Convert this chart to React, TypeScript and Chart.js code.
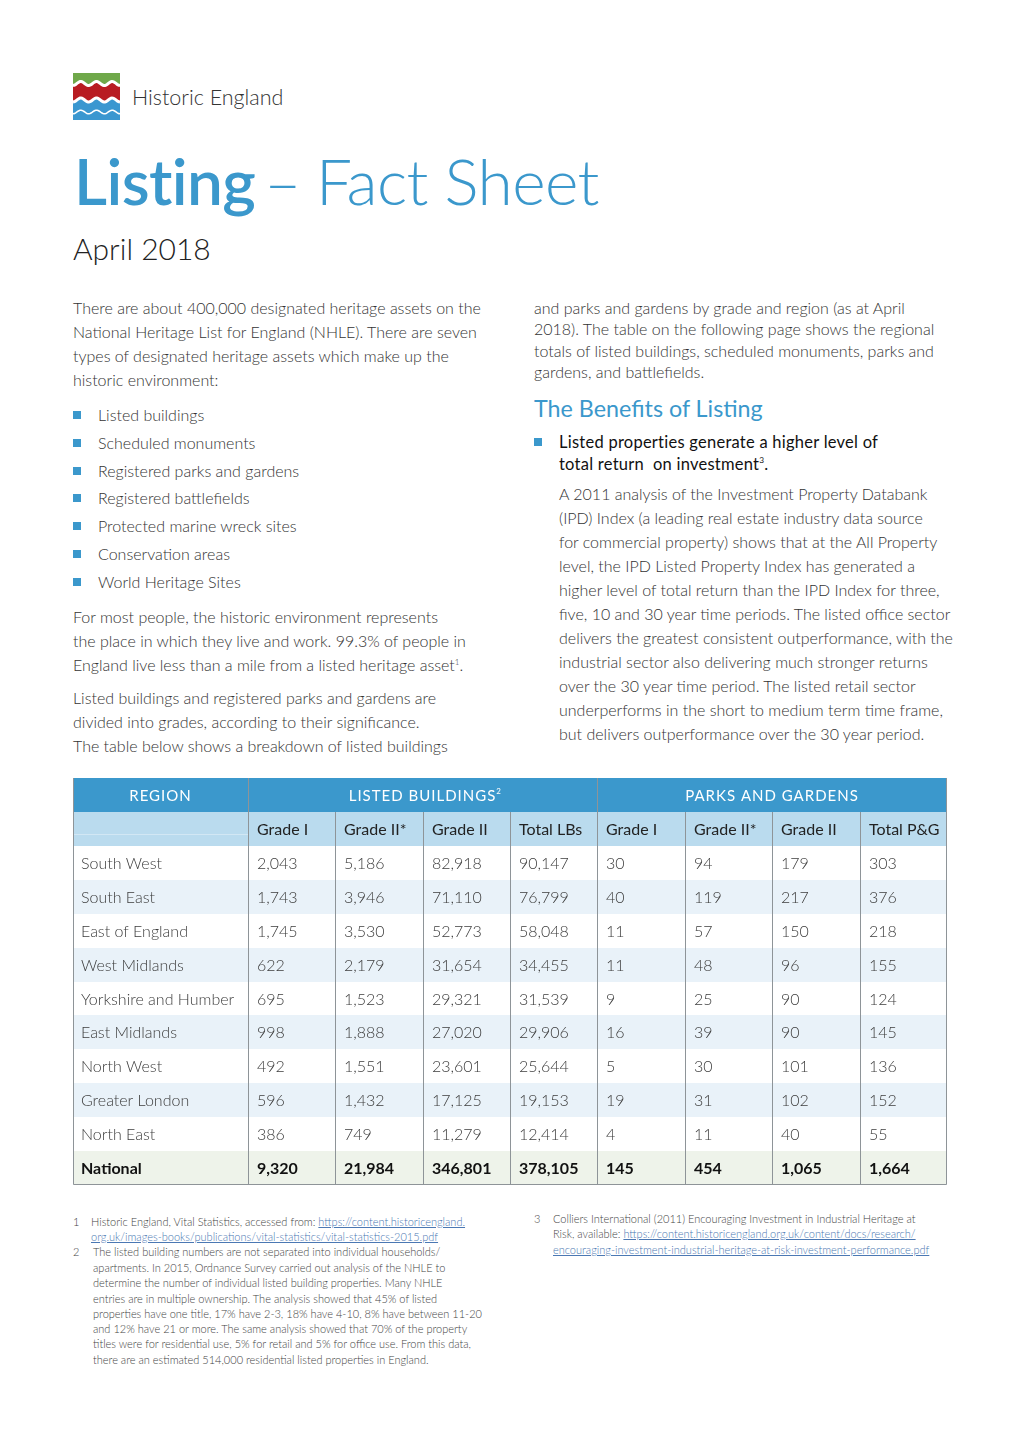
import React, { useEffect, useRef } from "react";
import { Chart, registerables } from "chart.js";

Chart.register(...registerables);

// ---------- Table data ----------
const regions = [
  "South West",
  "South East",
  "East of England",
  "West Midlands",
  "Yorkshire and Humber",
  "East Midlands",
  "North West",
  "Greater London",
  "North East",
  "National",
];
const lbGradeI = [2043, 1743, 1745, 622, 695, 998, 492, 596, 386, 9320];
const lbGradeIIStar = [5186, 3946, 3530, 2179, 1523, 1888, 1551, 1432, 749, 21984];
const lbGradeII = [82918, 71110, 52773, 31654, 29321, 27020, 23601, 17125, 11279, 346801];
const lbTotal = [90147, 76799, 58048, 34455, 31539, 29906, 25644, 19153, 12414, 378105];
const pgGradeI = [30, 40, 11, 11, 9, 16, 5, 19, 4, 145];
const pgGradeIIStar = [94, 119, 57, 48, 25, 39, 30, 31, 11, 454];
const pgGradeII = [179, 217, 150, 96, 90, 90, 101, 102, 40, 1065];
const pgTotal = [303, 376, 218, 155, 124, 145, 136, 152, 55, 1664];

const groupHeaders = ["REGION", "LISTED BUILDINGS", "PARKS AND GARDENS"];
const subHeaders = ["Grade I", "Grade II*", "Grade II", "Total LBs", "Grade I", "Grade II*", "Grade II", "Total P&G"];

const FONT = "'Source Sans Pro', Lato, 'Open Sans', sans-serif";
const BLUE = "#3b98cc";

const fmt = (n: number) => n.toLocaleString("en-GB");

function TableChart() {
  const ref = useRef<HTMLCanvasElement | null>(null);
  useEffect(() => {
    const canvas = ref.current;
    if (!canvas) return;
    const columns = [lbGradeI, lbGradeIIStar, lbGradeII, lbTotal, pgGradeI, pgGradeIIStar, pgGradeII, pgTotal];
    // column boundaries in x-scale units: region column spans two units
    const colEdges = [0, 2, 3, 4, 5, 6, 7, 8, 9, 10];
    const groupSpans = [
      [0, 2],
      [2, 6],
      [6, 10],
    ];
    const tablePlugin = {
      id: "tableCells",
      afterDraw(chart: any) {
        const ctx = chart.ctx as CanvasRenderingContext2D;
        const xs = chart.scales.x;
        const ys = chart.scales.y;
        const X = (v: number) => Math.round(xs.getPixelForValue(v));
        const Y = (v: number) => Math.round(ys.getPixelForValue(v));
        const nRows = regions.length + 2;
        ctx.save();
        // backgrounds
        for (let r = 0; r < nRows; r++) {
          let fill = "#ffffff";
          if (r === 0) fill = BLUE;
          else if (r === 1) fill = "#badbee";
          else if (r === nRows - 1) fill = "#eef3ea";
          else if ((r - 2) % 2 === 1) fill = "#e9f2f9";
          ctx.fillStyle = fill;
          ctx.fillRect(X(0), Y(r), X(10) - X(0), Y(r + 1) - Y(r));
        }
        // faint line inside subheader
        ctx.fillStyle = "rgba(255,255,255,0.35)";
        ctx.fillRect(X(0), Y(1.65), X(2) - X(0), 1);
        // vertical lines
        ctx.lineWidth = 1;
        for (let i = 1; i < colEdges.length - 1; i++) {
          const x = X(colEdges[i]) + 0.5;
          const isGroup = colEdges[i] === 2 || colEdges[i] === 6;
          ctx.strokeStyle = "#8e9498";
          ctx.beginPath();
          ctx.moveTo(x, isGroup ? Y(0) : Y(1));
          ctx.lineTo(x, Y(nRows));
          ctx.stroke();
        }
        // outer border
        ctx.strokeStyle = "#8e9498";
        ctx.beginPath();
        ctx.moveTo(X(0) + 0.5, Y(0));
        ctx.lineTo(X(0) + 0.5, Y(nRows) - 0.5);
        ctx.lineTo(X(10) - 0.5, Y(nRows) - 0.5);
        ctx.lineTo(X(10) - 0.5, Y(0));
        ctx.stroke();
        // group header text
        ctx.textBaseline = "middle";
        ctx.fillStyle = "#ffffff";
        ctx.font = `400 15px ${FONT}`;
        (ctx as any).letterSpacing = "1px";
        ctx.textAlign = "center";
        groupHeaders.forEach((h, i) => {
          const [a, b] = groupSpans[i];
          const cx = (X(a) + X(b)) / 2;
          const cy = (Y(0) + Y(1)) / 2 + 1;
          ctx.fillText(h, cx, cy);
          if (i === 1) {
            const w = ctx.measureText(h).width;
            ctx.save();
            ctx.font = `400 8px ${FONT}`;
            (ctx as any).letterSpacing = "0px";
            ctx.textAlign = "left";
            ctx.fillText("2", cx + w / 2, cy - 5);
            ctx.restore();
          }
        });
        (ctx as any).letterSpacing = "0px";
        // sub headers
        ctx.textAlign = "left";
        ctx.fillStyle = "#222222";
        ctx.font = `400 16px ${FONT}`;
        subHeaders.forEach((h, i) => {
          ctx.fillText(h, X(colEdges[i + 1]) + 9, (Y(1) + Y(2)) / 2 + 1);
        });
        // data rows
        regions.forEach((name, ri) => {
          const r = ri + 2;
          const cy = (Y(r) + Y(r + 1)) / 2 + 1;
          const bold = ri === regions.length - 1;
          ctx.font = bold ? `700 16px ${FONT}` : `300 16px ${FONT}`;
          ctx.fillStyle = bold ? "#111111" : "#3c3c3c";
          ctx.fillText(name, X(0) + 8, cy);
          columns.forEach((col, ci) => {
            ctx.fillText(fmt(col[ri]), X(colEdges[ci + 1]) + 9, cy);
          });
        });
        ctx.restore();
      },
    };
    const chart = new Chart(canvas, {
      type: "scatter",
      data: { datasets: [{ data: [] }] },
      options: {
        animation: false,
        responsive: false,
        maintainAspectRatio: false,
        layout: { padding: { left: 1, right: 0, top: 1, bottom: 0 } },
        plugins: { legend: { display: false }, tooltip: { enabled: false } },
        scales: {
          x: { type: "linear", min: 0, max: 10, display: false },
          y: { type: "linear", min: 0, max: 12, reverse: true, display: false },
        },
      },
      plugins: [tablePlugin],
    });
    return () => chart.destroy();
  }, []);
  return (
    <canvas
      ref={ref}
      width={875}
      height={408}
      style={{ position: "absolute", left: 72, top: 777, width: 875, height: 408 }}
    />
  );
}

function Logo() {
  const wave = (y: number, amp: number) => {
    const pts: string[] = [];
    for (let x = 0; x <= 47; x += 1) {
      pts.push(`${x},${(y + amp * Math.sin((x / 15.7) * 2 * Math.PI + 1.6)).toFixed(2)}`);
    }
    return pts;
  };
  const greenEdge = wave(10.5, 2);
  const redEdge = wave(27, 2);
  const blueLine = wave(39, 1.8);
  return (
    <svg width={47} height={47} viewBox="0 0 47 47" style={{ position: "absolute", left: 73, top: 73 }}>
      <rect x={0} y={0} width={47} height={47} fill="#3a97d0" />
      <polygon points={`0,0 47,0 ${redEdge.slice().reverse().join(" ")}`} fill="#b81c22" />
      <polygon points={`0,0 47,0 ${greenEdge.slice().reverse().join(" ")}`} fill="#6fa84a" />
      <polyline points={greenEdge.join(" ")} fill="none" stroke="#fff" strokeWidth={3} />
      <polyline points={redEdge.join(" ")} fill="none" stroke="#fff" strokeWidth={3} />
      <polyline points={blueLine.join(" ")} fill="none" stroke="#fff" strokeWidth={1.6} />
    </svg>
  );
}

type LineProps = {
  x: number;
  y: number;
  size?: number;
  color?: string;
  weight?: number;
  children: React.ReactNode;
  lh?: number;
  ls?: number;
};
function Line({ x, y, size = 16, color = "#333", weight = 300, children, lh = 24, ls = 0 }: LineProps) {
  return (
    <div
      style={{
        position: "absolute",
        left: x,
        top: y - lh / 2,
        height: lh,
        lineHeight: `${lh}px`,
        fontSize: size,
        color,
        fontWeight: weight,
        whiteSpace: "nowrap",
        letterSpacing: ls ? `${ls}px` : undefined,
      }}
    >
      {children}
    </div>
  );
}

const Sup = ({ children }: { children: React.ReactNode }) => (
  <sup style={{ fontSize: "0.5em", verticalAlign: "0.8em", lineHeight: 0 }}>{children}</sup>
);

const Bullet = ({ x, y }: { x: number; y: number }) => (
  <div style={{ position: "absolute", left: x, top: y - 4, width: 8, height: 8, background: BLUE }} />
);

const Link = ({ children }: { children: React.ReactNode }) => (
  <span style={{ color: "#4b78b3", textDecoration: "underline" }}>{children}</span>
);

const leftPara1 = [
  "There are about 400,000 designated heritage assets on the",
  "National Heritage List for England (NHLE). There are seven",
  "types of designated heritage assets which make up the",
  "historic environment:",
];
const assetTypes = [
  "Listed buildings",
  "Scheduled monuments",
  "Registered parks and gardens",
  "Registered battlefields",
  "Protected marine wreck sites",
  "Conservation areas",
  "World Heritage Sites",
];
const leftPara3 = [
  "Listed buildings and registered parks and gardens are",
  "divided into grades, according to their significance.",
  "The table below shows a breakdown of listed buildings",
];
const rightPara1 = [
  "and parks and gardens by grade and region (as at April",
  "2018). The table on the following page shows the regional",
  "totals of listed buildings, scheduled monuments, parks and",
  "gardens, and battlefields.",
];
const rightPara2 = [
  "A 2011 analysis of the Investment Property Databank",
  "(IPD) Index (a leading real estate industry data source",
  "for commercial property) shows that at the All Property",
  "level, the IPD Listed Property Index has generated a",
  "higher level of total return than the IPD Index for three,",
  "five, 10 and 30 year time periods. The listed office sector",
  "delivers the greatest consistent outperformance, with the",
  "industrial sector also delivering much stronger returns",
  "over the 30 year time period. The listed retail sector",
  "underperforms in the short to medium term time frame,",
  "but delivers outperformance over the 30 year period.",
];
const fn2Lines = [
  "The listed building numbers are not separated into individual households/",
  "apartments. In 2015, Ordnance Survey carried out analysis of the NHLE to",
  "determine the number of individual listed building properties. Many NHLE",
  "entries are in multiple ownership. The analysis showed that 45% of listed",
  "properties have one title, 17% have 2-3, 18% have 4-10, 8% have between 11-20",
  "and 12% have 21 or more. The same analysis showed that 70% of the property",
  "titles were for residential use, 5% for retail and 5% for office use. From this data,",
  "there are an estimated 514,000 residential listed properties in England.",
];

export default function App() {
  useEffect(() => {
    document.body.style.margin = "0";
  }, []);
  const fnY = [1251, 1267, 1282, 1298, 1313, 1328, 1343, 1359];
  return (
    <div style={{ position: "relative", width: 1020, height: 1440, background: "#fff", fontFamily: FONT, overflow: "hidden" }}>
      <Logo />
      <Line x={132} y={97} size={21.5} color="#333" weight={300} lh={30}>
        Historic England
      </Line>
      <div
        style={{
          position: "absolute",
          left: 74,
          top: 143,
          fontSize: 64,
          lineHeight: "76px",
          color: BLUE,
          whiteSpace: "nowrap",
          letterSpacing: "-0.6px",
        }}
      >
        <span style={{ fontWeight: 600 }}>Listing</span>
        <span style={{ fontWeight: 300, marginLeft: 9 }}>–</span>
        <span style={{ fontWeight: 300, marginLeft: 15 }}>Fact Sheet</span>
      </div>
      <Line x={73} y={248} size={30} color="#222" weight={300} lh={40}>
        April 2018
      </Line>

      {leftPara1.map((t, i) => (
        <Line key={"l1" + i} x={73} y={308 + i * 24}>
          {t}
        </Line>
      ))}
      {assetTypes.map((t, i) => (
        <React.Fragment key={"b" + i}>
          <Bullet x={73} y={415 + i * 27.8} />
          <Line x={98} y={415 + i * 27.8}>
            {t}
          </Line>
        </React.Fragment>
      ))}
      <Line x={73} y={617}>For most people, the historic environment represents</Line>
      <Line x={73} y={641}>the place in which they live and work. 99.3% of people in</Line>
      <Line x={73} y={665}>
        England live less than a mile from a listed heritage asset<Sup>1</Sup>.
      </Line>
      {leftPara3.map((t, i) => (
        <Line key={"l3" + i} x={73} y={698 + i * 24}>
          {t}
        </Line>
      ))}

      {rightPara1.map((t, i) => (
        <Line key={"r1" + i} x={534} y={308 + i * 21.4}>
          {t}
        </Line>
      ))}
      <Line x={534} y={408} size={23.3} color={BLUE} weight={400} lh={30}>
        The Benefits of Listing
      </Line>
      <Bullet x={534} y={442} />
      <Line x={559} y={442} size={16.5} color="#111" weight={400} lh={22} ls={0.25}>
        Listed properties generate a higher level of
      </Line>
      <Line x={559} y={464} size={16.5} color="#111" weight={400} lh={22} ls={0.25}>
        total return&nbsp; on investment<Sup>3</Sup>.
      </Line>
      {rightPara2.map((t, i) => (
        <Line key={"r2" + i} x={559} y={494 + i * 24}>
          {t}
        </Line>
      ))}

      <TableChart />

      <Line x={73} y={1221} size={11} color="#444" lh={15}>
        1
      </Line>
      <Line x={91} y={1221} size={11} color="#444" lh={15}>
        Historic England, Vital Statistics, accessed from: <Link>https://content.historicengland.</Link>
      </Line>
      <Line x={91} y={1236} size={11} color="#444" lh={15}>
        <Link>org.uk/images-books/publications/vital-statistics/vital-statistics-2015.pdf</Link>
      </Line>
      <Line x={73} y={1251} size={11} color="#444" lh={15}>
        2
      </Line>
      {fn2Lines.map((t, i) => (
        <Line key={"f2" + i} x={93} y={fnY[i]} size={11} color="#444" lh={15}>
          {t}
        </Line>
      ))}
      <Line x={534} y={1218} size={11} color="#444" lh={15}>
        3
      </Line>
      <Line x={553} y={1218} size={11} color="#444" lh={15}>
        Colliers International (2011) Encouraging Investment in Industrial Heritage at
      </Line>
      <Line x={553} y={1233} size={11} color="#444" lh={15}>
        Risk, available: <Link>https://content.historicengland.org.uk/content/docs/research/</Link>
      </Line>
      <Line x={553} y={1249} size={11} color="#444" lh={15}>
        <Link>encouraging-investment-industrial-heritage-at-risk-investment-performance.pdf</Link>
      </Line>
    </div>
  );
}
